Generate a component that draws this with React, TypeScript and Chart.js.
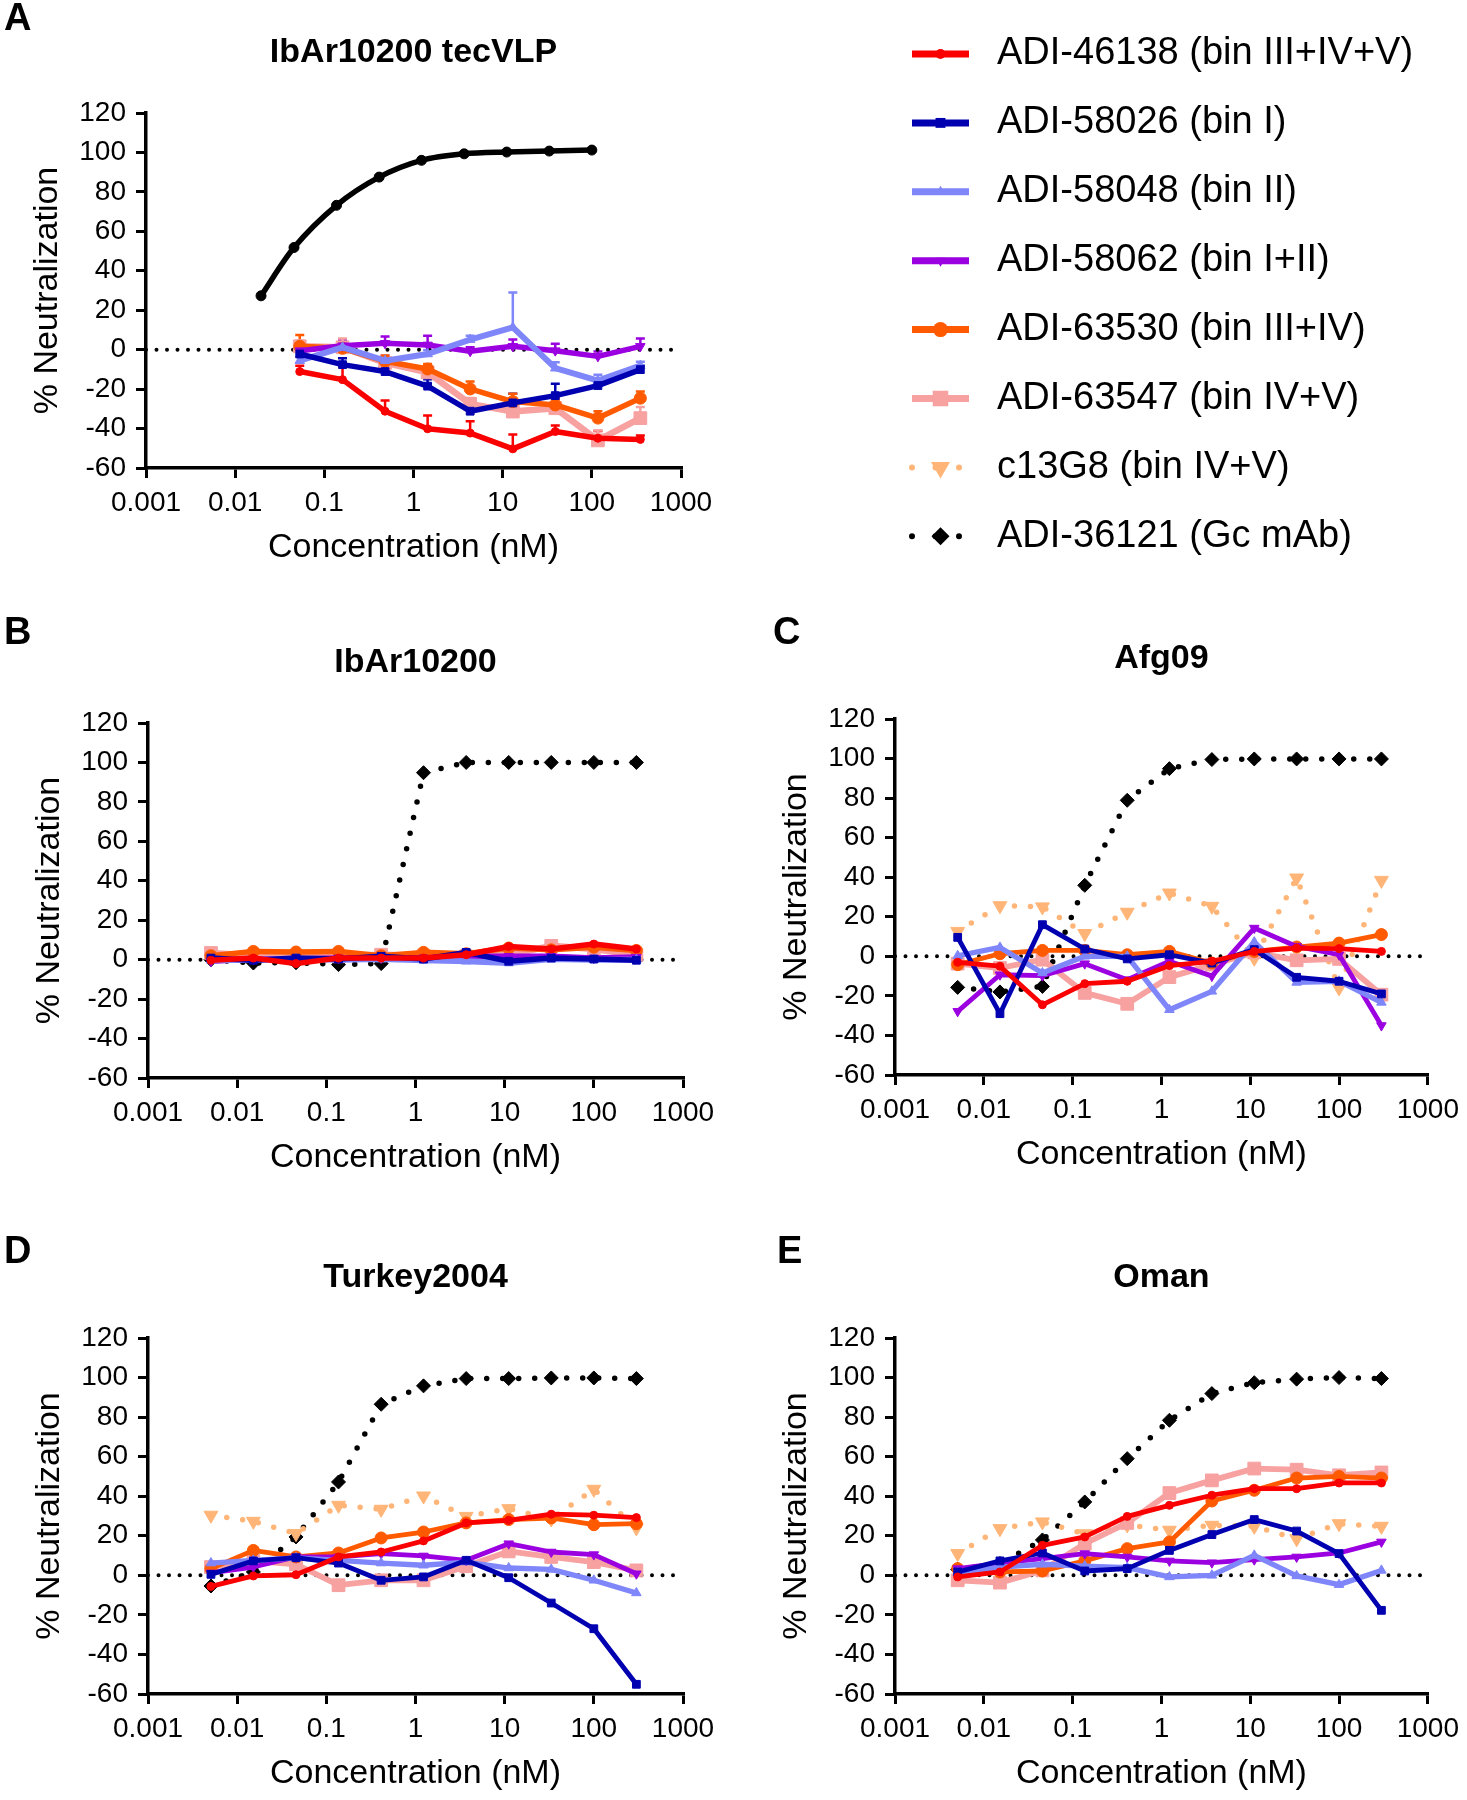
import React, { useEffect, useRef } from 'react';
import { Chart, registerables } from 'chart.js';
import { drawPoint } from 'chart.js/helpers';

Chart.register(...registerables);

const FONT = "'Liberation Sans', Arial, Helvetica, sans-serif";

// ---------------- data ----------------
const X_TICKS = [0.001, 0.01, 0.1, 1, 10, 100, 1000];
const X_TICK_LABELS = ['0.001', '0.01', '0.1', '1', '10', '100', '1000'];
const Y_MIN = -60;
const Y_MAX = 120;
const Y_STEP = 20;

const SERIES_LABELS = [
  'ADI-46138 (bin III+IV+V)',
  'ADI-58026 (bin I)',
  'ADI-58048 (bin II)',
  'ADI-58062 (bin I+II)',
  'ADI-63530 (bin III+IV)',
  'ADI-63547 (bin IV+V)',
  'c13G8 (bin IV+V)',
  'ADI-36121 (Gc mAb)',
];

// concentrations (nM)
const CONC_A_GC = [0.0195, 0.0457, 0.137, 0.412, 1.23, 3.7, 11.1, 33.3, 100];
const CONC_A = [0.053, 0.16, 0.48, 1.44, 4.32, 13.0, 38.9, 117, 350];
const CONC = [0.00508, 0.0152, 0.0457, 0.137, 0.412, 1.23, 3.7, 11.1, 33.3, 100, 300];

// Panel A: IbAr10200 tecVLP
const A_GC = [27.3, 51.8, 73.2, 87.5, 96.0, 99.3, 100.2, 100.7, 101.2];
const A_46138 = [-11.1, -15.2, -31.2, -40.1, -42.3, -50.3, -41.5, -44.9, -45.5];
const A_46138_ERR = [3, 7, 5.4, 6.7, 6, 7.3, 3.1, 3.6, 2];
const A_58026 = [-2.2, -7.6, -11.1, -18.5, -31.2, -27, -23.3, -18.2, -10.1];
const A_58026_ERR = [2, 3.2, 2.5, 3.5, 3, 4.6, 6, 2.5, 2];
const A_58048 = [-5.6, 1.2, -5.6, -2.2, 5.1, 11.3, -9.4, -15.7, -8.1];
const A_58048_ERR = [2, 3, 2.5, 2, 2, 17.7, 3, 3, 2];
const A_58062 = [-0.5, 2.0, 3.2, 2.4, -0.8, 1.7, -0.5, -3.4, 1.7];
const A_58062_ERR = [2, 3, 3.5, 4.7, 2, 3.5, 3.5, 2.5, 4];
const A_63530 = [1.7, 0.7, -5.9, -9.8, -19.9, -26.3, -28, -34.7, -24.6];
const A_63530_ERR = [5.7, 2, 3, 2.5, 3.7, 3.9, 3, 3.5, 3.4];
const A_63547 = [1.7, 1.2, -6.7, -11.5, -27.5, -31.4, -29.7, -46, -34.7];
const A_63547_ERR = [3, 4.5, 2, 2, 3, 2, 2, 5, 5.6];

// Panel B: IbAr10200
const B_GC = [0, -1.7, -1.5, -2.5, -2, 94.8, 100, 100, 100, 100, 100];
const B_46138 = [-0.3, 0.8, -2, 0.8, 0.8, 0.8, 2.5, 6.7, 5.4, 7.9, 5.4];
const B_58026 = [0.8, -0.3, 0.8, 0.3, 1.7, 0.3, 3.7, -0.8, 0.8, 0.3, -0.3];
const B_58048 = [-0.3, 0, 0.3, 0, 0.3, -0.3, -0.8, -1.7, 0.3, 0, 0];
const B_58062 = [-0.8, 0.3, 0.3, 0.8, 0.8, 0.8, 1.7, 1.7, 1.7, 0.8, 1.3];
const B_63530 = [2, 4.2, 3.9, 4.2, 2, 3.7, 3, 5.9, 5, 6.3, 4.7];
const B_63547 = [3.4, 2, 1.7, 1.7, 2.5, 2, 1.7, 2.5, 7, 5.4, 2.5];

// Panel C: Afg09
const C_GC = [-15.7, -18, -15.2, 35.9, 78.9, 94.9, 99.5, 99.8, 99.8, 99.8, 99.8];
const C_46138 = [-3, -5, -24.5, -13.8, -12.6, -4.7, -2.5, 2.5, 4.2, 3.9, 2.5];
const C_58026 = [9.6, -29, 16, 3.7, -1.3, 0.8, -3.4, 3.4, -10.6, -12.6, -19];
const C_58048 = [0.3, 4.5, -8.4, 0, 0, -27, -17.7, 7.2, -13.2, -12.6, -23.3];
const C_58062 = [-27.8, -9.3, -9.8, -3.7, -11.8, -2.5, -10, 14.3, 5, 0.8, -35];
const C_63530 = [-4.2, 1.3, 3, 3, 0.8, 2.5, -3.4, 2.5, 4.7, 6.7, 11];
const C_63547 = [-3.7, -5.9, -1.7, -18.5, -24, -10.5, -4.2, 2, -2, -1.3, -19.4];
const C_C13G8 = [12.6, 25.6, 25, 11.5, 22.3, 32, 25.3, -1, 39.6, -16, 38.4];

// Panel D: Turkey2004
const D_GC = [-5.4, 1.7, 19.4, 47.2, 86.5, 95.8, 99.5, 99.5, 99.8, 99.8, 99.5];
const D_46138 = [-5.6, -0.3, 0.3, 9.3, 11.8, 17.4, 26.5, 27.8, 30.9, 30.4, 29.2];
const D_58026 = [0.5, 7.3, 8.9, 6.2, -2.5, -0.8, 7.6, -1.2, -14, -27, -55.1];
const D_58048 = [6.2, 7.6, 8.8, 7.6, 6.2, 5.1, 6.7, 3.7, 3, -2.5, -8.9];
const D_58062 = [1.2, 4.2, 9.3, 9.3, 11, 9.8, 7.6, 16, 11.8, 10.5, 0.8];
const D_63530 = [3.4, 12.6, 9.3, 11.3, 18.9, 21.9, 26.5, 28.2, 29, 25.6, 26.1];
const D_63547 = [4.2, 7.3, 5.6, -5, -2.5, -2.5, 4.6, 12.1, 9.3, 6.7, 2.5];
const D_C13G8 = [30.4, 27.3, 21.1, 35.4, 33.4, 40.1, 29.8, 33.7, 28.5, 43.5, 24];

// Panel E: Oman
const E_GC = [3, 6, 17.9, 37.1, 59, 78.4, 91.9, 97.4, 99.2, 100, 99.5];
const E_46138 = [-0.8, 1.7, 15.2, 19.4, 29.8, 35.4, 40.5, 43.8, 43.8, 46.7, 46.7];
const E_58026 = [1.7, 7.3, 11.3, 2.2, 3.4, 12.6, 20.6, 28.2, 22.4, 11, -17.7];
const E_58048 = [1.2, 4.2, 5.6, 4.7, 3.9, -0.8, 0, 10.1, -0.3, -4.7, 2.5];
const E_58062 = [3.4, 6.2, 8.4, 11, 9.3, 7.3, 6.4, 7.9, 9.3, 11.3, 16.9];
const E_63530 = [3.4, 1.7, 2.2, 7.3, 13.5, 16.9, 37.6, 43, 49.2, 50, 49.2];
const E_63547 = [-2.5, -3.7, 2.5, 16, 26.5, 41.6, 48, 54, 53.4, 50.6, 52];
const E_C13G8 = [11, 23.6, 27, 21, 25.5, 22.8, 25.3, 24.8, 18.5, 26.1, 24.8];

type Series = { x: number[]; y: number[]; err?: number[] } | null;

const SERIES_A: Series[] = [
  { x: CONC_A, y: A_46138, err: A_46138_ERR },
  { x: CONC_A, y: A_58026, err: A_58026_ERR },
  { x: CONC_A, y: A_58048, err: A_58048_ERR },
  { x: CONC_A, y: A_58062, err: A_58062_ERR },
  { x: CONC_A, y: A_63530, err: A_63530_ERR },
  { x: CONC_A, y: A_63547, err: A_63547_ERR },
  null,
  { x: CONC_A_GC, y: A_GC },
];
const SERIES_B: Series[] = [
  { x: CONC, y: B_46138 }, { x: CONC, y: B_58026 }, { x: CONC, y: B_58048 }, { x: CONC, y: B_58062 },
  { x: CONC, y: B_63530 }, { x: CONC, y: B_63547 }, null, { x: CONC, y: B_GC },
];
const SERIES_C: Series[] = [
  { x: CONC, y: C_46138 }, { x: CONC, y: C_58026 }, { x: CONC, y: C_58048 }, { x: CONC, y: C_58062 },
  { x: CONC, y: C_63530 }, { x: CONC, y: C_63547 }, { x: CONC, y: C_C13G8 }, { x: CONC, y: C_GC },
];
const SERIES_D: Series[] = [
  { x: CONC, y: D_46138 }, { x: CONC, y: D_58026 }, { x: CONC, y: D_58048 }, { x: CONC, y: D_58062 },
  { x: CONC, y: D_63530 }, { x: CONC, y: D_63547 }, { x: CONC, y: D_C13G8 }, { x: CONC, y: D_GC },
];
const SERIES_E: Series[] = [
  { x: CONC, y: E_46138 }, { x: CONC, y: E_58026 }, { x: CONC, y: E_58048 }, { x: CONC, y: E_58062 },
  { x: CONC, y: E_63530 }, { x: CONC, y: E_63547 }, { x: CONC, y: E_C13G8 }, { x: CONC, y: E_GC },
];

// ---------------- styles ----------------
const STYLES = [
  { color: '#fa0000', point: 'circle', r: 4, rot: 0, lr: 5, dotted: false, extra: 0 },
  { color: '#0000b0', point: 'rect', r: 5.5, rot: 0, lr: 7, dotted: false, extra: 0 },
  { color: '#7f86fa', point: 'triangle', r: 5.5, rot: 0, lr: 6, dotted: false, extra: 0.5 },
  { color: '#9b00e0', point: 'triangle', r: 5.5, rot: 180, lr: 6, dotted: false, extra: 0 },
  { color: '#ff5a00', point: 'circle', r: 6, rot: 0, lr: 7.5, dotted: false, extra: 0 },
  { color: '#f7a1a1', point: 'rect', r: 9, rot: 0, lr: 11, dotted: false, extra: 1 },
  { color: '#ffb577', point: 'triangle', r: 8, rot: 180, lr: 11, dotted: true, extra: 0 },
  { color: '#000000', point: 'rectRot', r: 7, rot: 0, lr: 9, dotted: true, extra: 0 },
];

const Y_AXIS_W = 130;
const X_AXIS_H = 100;
const TICK_FONT = 28;
const AXIS_TITLE_FONT = 34;

type PanelCfg = {
  key: string; letter: string; title: string;
  left: number; top: number; w: number; h: number;
  area: { l: number; t: number; r: number; b: number };
  letterPos: [number, number];
  series: Series[];
  lw: number;
  solidGc?: boolean;
  legend?: boolean;
};

const PANELS: PanelCfg[] = [
  { key: 'A', letter: 'A', title: 'IbAr10200 tecVLP', left: 0, top: 0, w: 1467, h: 600,
    area: { l: 146, t: 113, r: 681, b: 468 }, letterPos: [4, 20], series: SERIES_A, lw: 5.5, solidGc: true, legend: true },
  { key: 'B', letter: 'B', title: 'IbAr10200', left: 0, top: 600, w: 733, h: 600,
    area: { l: 148, t: 723, r: 683, b: 1078 }, letterPos: [4, 34], series: SERIES_B, lw: 5.5 },
  { key: 'C', letter: 'C', title: 'Afg09', left: 733, top: 600, w: 734, h: 600,
    area: { l: 895, t: 719, r: 1431, b: 1075 }, letterPos: [40, 34], series: SERIES_C, lw: 4.8 },
  { key: 'D', letter: 'D', title: 'Turkey2004', left: 0, top: 1200, w: 733, h: 600,
    area: { l: 148, t: 1338, r: 683, b: 1694 }, letterPos: [4, 53], series: SERIES_D, lw: 4.8 },
  { key: 'E', letter: 'E', title: 'Oman', left: 733, top: 1200, w: 734, h: 600,
    area: { l: 895, t: 1338, r: 1431, b: 1694 }, letterPos: [44, 53], series: SERIES_E, lw: 4.8 },
];

// ---------------- plugins ----------------
const errorBarPlugin = {
  id: 'errorBars',
  beforeDatasetsDraw(chart: any) {
    const { ctx } = chart;
    const xs = chart.scales.x;
    const ys = chart.scales.y;
    chart.data.datasets.forEach((ds: any) => {
      if (!ds.errors) return;
      ctx.save();
      ctx.strokeStyle = ds.borderColor;
      ctx.lineWidth = 2.5;
      ds.data.forEach((p: any, i: number) => {
        const e = ds.errors[i];
        if (!e) return;
        const px = xs.getPixelForValue(p.x);
        const py = ys.getPixelForValue(p.y);
        const pe = ys.getPixelForValue(p.y + e);
        ctx.beginPath();
        ctx.moveTo(px, py);
        ctx.lineTo(px, pe);
        ctx.moveTo(px - 4.5, pe);
        ctx.lineTo(px + 4.5, pe);
        ctx.stroke();
      });
      ctx.restore();
    });
  },
};

const panelTextPlugin = {
  id: 'panelText',
  afterDraw(chart: any, _args: any, opts: any) {
    const { ctx, chartArea } = chart;
    ctx.save();
    ctx.fillStyle = '#000';
    ctx.textBaseline = 'middle';
    ctx.textAlign = 'left';
    ctx.font = `bold 38px ${FONT}`;
    ctx.fillText(opts.letter, opts.letterX, opts.letterY);
    ctx.textAlign = 'center';
    ctx.font = `bold 34px ${FONT}`;
    ctx.fillText(opts.title, (chartArea.left + chartArea.right) / 2, chartArea.top - 60);
    ctx.restore();
  },
};

const seriesLegendPlugin = {
  id: 'seriesLegend',
  afterDraw(chart: any, _args: any, opts: any) {
    if (!opts || !opts.show) return;
    const ctx = chart.ctx;
    SERIES_LABELS.forEach((label, i) => {
      const st = STYLES[i];
      const y = opts.y0 + i * opts.dy;
      ctx.save();
      ctx.strokeStyle = st.color;
      ctx.fillStyle = st.color;
      ctx.beginPath();
      if (st.dotted) {
        ctx.lineWidth = 6;
        ctx.setLineDash([0, 23.5]);
        ctx.lineCap = 'round';
        ctx.moveTo(opts.x0, y);
        ctx.lineTo(opts.x1 - 8, y);
      } else {
        ctx.lineWidth = 7;
        ctx.setLineDash([]);
        ctx.lineCap = 'butt';
        ctx.moveTo(opts.x0, y);
        ctx.lineTo(opts.x1, y);
      }
      ctx.stroke();
      ctx.setLineDash([]);
      drawPoint(ctx, { pointStyle: st.point as any, rotation: st.rot, radius: st.lr, borderWidth: 0 } as any,
        opts.xm, y);
      ctx.fillStyle = '#000';
      ctx.font = `38px ${FONT}`;
      ctx.textBaseline = 'middle';
      ctx.textAlign = 'left';
      ctx.fillText(label, opts.tx, y);
      ctx.restore();
    });
  },
};

// ---------------- chart config ----------------
function buildDatasets(p: PanelCfg) {
  const ds: any[] = [];
  p.series.forEach((s, i) => {
    if (!s) return;
    const st = STYLES[i];
    const solid = p.solidGc && i === 7;
    const dotted = st.dotted && !solid;
    ds.push({
      label: SERIES_LABELS[i],
      data: s.x.map((x, j) => ({ x, y: s.y[j] })),
      errors: s.err,
      borderColor: st.color,
      backgroundColor: st.color,
      borderWidth: dotted ? 5.5 : p.lw + st.extra,
      borderDash: dotted ? [0, 16] : [],
      borderCapStyle: dotted ? 'round' : 'butt',
      borderJoinStyle: 'round',
      pointStyle: solid ? 'circle' : st.point,
      pointRotation: st.rot,
      pointRadius: solid ? 5 : st.r,
      pointBorderWidth: 1,
      pointBorderColor: st.color,
      pointBackgroundColor: st.color,
      pointHoverRadius: solid ? 5 : st.r,
      tension: solid ? 0.3 : 0,
      fill: false,
      order: 0,
    });
  });
  ds.push({
    label: 'zero',
    data: [{ x: X_TICKS[0], y: 0 }, { x: X_TICKS[X_TICKS.length - 1], y: 0 }],
    borderColor: '#000',
    borderWidth: 4,
    borderDash: [0, 10.5],
    borderCapStyle: 'round',
    pointRadius: 0,
    pointHoverRadius: 0,
    fill: false,
    order: 1,
  });
  return ds;
}

function axisCommon() {
  return {
    grid: { drawOnChartArea: false, drawTicks: true, tickLength: 10, color: '#000', lineWidth: 3, tickWidth: 3 },
    border: { display: true, color: '#000', width: 3.5 },
  };
}

function buildConfig(p: PanelCfg): any {
  const rel = { l: p.area.l - p.left, t: p.area.t - p.top, r: p.area.r - p.left, b: p.area.b - p.top };
  return {
    type: 'line',
    data: { datasets: buildDatasets(p) },
    plugins: [errorBarPlugin, panelTextPlugin, seriesLegendPlugin],
    options: {
      responsive: false,
      maintainAspectRatio: false,
      animation: false,
      devicePixelRatio: 1,
      events: [],
      layout: {
        padding: {
          left: rel.l - Y_AXIS_W,
          top: rel.t,
          right: p.w - rel.r,
          bottom: p.h - rel.b - X_AXIS_H,
        },
      },
      plugins: {
        legend: { display: false },
        tooltip: { enabled: false },
        title: { display: false },
        panelText: { letter: p.letter, title: p.title, letterX: p.letterPos[0], letterY: p.letterPos[1] },
        seriesLegend: { show: !!p.legend, x0: 912, x1: 969, xm: 940.5, tx: 997, y0: 54, dy: 68.9 },
      },
      scales: {
        x: {
          type: 'logarithmic',
          position: 'bottom',
          min: X_TICKS[0],
          max: X_TICKS[X_TICKS.length - 1],
          afterBuildTicks: (s: any) => { s.ticks = X_TICKS.map((v) => ({ value: v })); },
          afterFit: (s: any) => { s.height = X_AXIS_H; },
          ticks: {
            autoSkip: false, maxRotation: 0, minRotation: 0, color: '#000', padding: 8,
            font: { family: FONT, size: TICK_FONT },
            callback: (_v: any, i: number) => X_TICK_LABELS[i],
          },
          title: {
            display: true, text: 'Concentration (nM)', color: '#000',
            font: { family: FONT, size: AXIS_TITLE_FONT }, padding: { top: 0, bottom: 0 },
          },
          ...axisCommon(),
        },
        y: {
          type: 'linear',
          position: 'left',
          min: Y_MIN,
          max: Y_MAX,
          afterFit: (s: any) => { s.width = Y_AXIS_W; },
          ticks: { stepSize: Y_STEP, color: '#000', padding: 10, font: { family: FONT, size: TICK_FONT } },
          title: {
            display: true, text: '% Neutralization', color: '#000',
            font: { family: FONT, size: AXIS_TITLE_FONT }, padding: { top: 11, bottom: 0 },
          },
          ...axisCommon(),
        },
      },
    },
  };
}

function Panel({ cfg }: { cfg: PanelCfg }) {
  const ref = useRef<HTMLCanvasElement>(null);
  useEffect(() => {
    if (!ref.current) return;
    const chart = new Chart(ref.current, buildConfig(cfg));
    return () => chart.destroy();
  }, [cfg]);
  return (
    <canvas
      ref={ref}
      width={cfg.w}
      height={cfg.h}
      style={{ position: 'absolute', left: cfg.left, top: cfg.top, width: cfg.w, height: cfg.h }}
    />
  );
}

export default function App() {
  return (
    <div style={{ position: 'absolute', left: 0, top: 0, width: 1467, height: 1800, background: '#fff', overflow: 'hidden' }}>
      {PANELS.map((p) => (
        <Panel key={p.key} cfg={p} />
      ))}
    </div>
  );
}
